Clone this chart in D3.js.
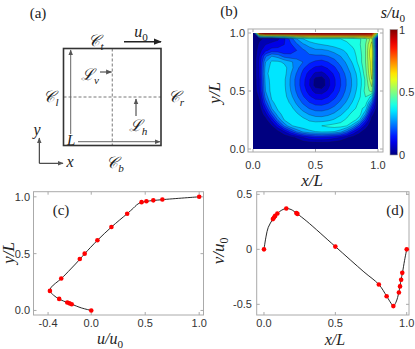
<!DOCTYPE html>
<html>
<head>
<meta charset="utf-8">
<script src="https://cdn.jsdelivr.net/npm/d3@7"></script>
<style>
  body { margin: 0; background: #fff; }
  svg text { fill: #222; }
  .tick { font-family: "Liberation Sans", Arial, sans-serif; font-size: 11px; fill: #333; }
  .math { font-family: "Liberation Serif", "DejaVu Serif", serif; font-style: italic; }
  .plab { font-family: "Liberation Serif", "DejaVu Serif", serif; font-size: 15px; }
</style>
</head>
<body>
<div id="fig"></div>
<script>
// ---- data ----
// reference points, u along the vertical centre line
var yPts = [0, 0.0547, 0.0625, 0.0703, 0.1016, 0.1719, 0.2813, 0.4531, 0.5, 0.6172, 0.7344, 0.8516, 0.9531, 0.9609, 0.9688, 0.9766, 1.0];
var uPts = [0, -0.181, -0.202, -0.222, -0.297, -0.383, -0.278, -0.106, -0.061, 0.057, 0.187, 0.333, 0.466, 0.511, 0.575, 0.659, 1.0];
// simulated u profile (solid line)
var yLine = [0, 0.022, 0.055, 0.07, 0.10, 0.135, 0.172, 0.205, 0.24, 0.28, 0.365, 0.45, 0.5, 0.617, 0.734, 0.852, 0.9, 0.928, 0.946, 0.96, 0.975, 1.0];
var uLine = [0, -0.09, -0.181, -0.222, -0.297, -0.35, -0.383, -0.37, -0.33, -0.278, -0.19, -0.106, -0.06, 0.057, 0.187, 0.333, 0.39, 0.42, 0.45, 0.511, 0.659, 1.0];
// reference points, v along the horizontal centre line
var xPts = [0, 0.0625, 0.0703, 0.0781, 0.0938, 0.1563, 0.2266, 0.2344, 0.5, 0.8047, 0.8594, 0.9063, 0.9453, 0.9531, 0.9609, 0.9688, 1.0];
var vPts = [0, 0.275, 0.29, 0.304, 0.326, 0.371, 0.331, 0.322, 0.025, -0.32, -0.427, -0.516, -0.392, -0.337, -0.277, -0.214, 0];
// simulated v profile (solid line)
var xLine = [0, 0.015, 0.03, 0.0625, 0.094, 0.125, 0.156, 0.19, 0.234, 0.3, 0.5, 0.7, 0.805, 0.86, 0.89, 0.906, 0.925, 0.945, 0.96, 0.97, 0.985, 1.0];
var vLine = [0, 0.12, 0.2, 0.275, 0.326, 0.357, 0.371, 0.362, 0.322, 0.255, 0.025, -0.205, -0.32, -0.427, -0.49, -0.515, -0.48, -0.39, -0.277, -0.214, -0.1, 0];

// speed field s/u0 on a 21x21 grid, rows from y=1 (top) down to y=0, x from 0 to 1
var speedGrid = [
  [0, 0.9, 1, 1, 1, 1, 1, 1, 1, 1, 1, 1, 1, 1, 1, 1, 1, 1, 1, 0.95, 0.5],
  [0, 0.04, 0.06, 0.07, 0.09, 0.14, 0.22, 0.3, 0.35, 0.38, 0.39, 0.4, 0.4, 0.4, 0.4, 0.41, 0.42, 0.44, 0.48, 0.58, 0],
  [0, 0.06, 0.1, 0.12, 0.13, 0.15, 0.19, 0.24, 0.29, 0.32, 0.34, 0.35, 0.36, 0.37, 0.38, 0.39, 0.41, 0.44, 0.5, 0.62, 0],
  [0, 0.08, 0.14, 0.17, 0.17, 0.16, 0.17, 0.2, 0.24, 0.27, 0.29, 0.29, 0.3, 0.32, 0.34, 0.36, 0.39, 0.43, 0.5, 0.65, 0],
  [0, 0.1, 0.24, 0.3, 0.28, 0.23, 0.22, 0.22, 0.24, 0.24, 0.24, 0.24, 0.25, 0.27, 0.3, 0.34, 0.38, 0.42, 0.5, 0.65, 0],
  [0, 0.11, 0.3, 0.36, 0.36, 0.34, 0.31, 0.28, 0.25, 0.21, 0.19, 0.18, 0.2, 0.23, 0.27, 0.31, 0.36, 0.42, 0.5, 0.63, 0],
  [0, 0.11, 0.32, 0.37, 0.38, 0.37, 0.32, 0.27, 0.21, 0.17, 0.14, 0.135, 0.156, 0.19, 0.24, 0.29, 0.34, 0.4, 0.49, 0.63, 0],
  [0, 0.11, 0.33, 0.38, 0.38, 0.37, 0.305, 0.245, 0.185, 0.13, 0.09, 0.085, 0.115, 0.16, 0.21, 0.27, 0.32, 0.38, 0.48, 0.62, 0],
  [0, 0.1, 0.32, 0.37, 0.38, 0.36, 0.295, 0.23, 0.17, 0.107, 0.035, 0.02, 0.087, 0.142, 0.2, 0.256, 0.314, 0.37, 0.46, 0.6, 0],
  [0, 0.1, 0.31, 0.37, 0.38, 0.36, 0.294, 0.231, 0.167, 0.104, 0.03, 0.015, 0.084, 0.141, 0.198, 0.255, 0.313, 0.37, 0.46, 0.56, 0],
  [0, 0.09, 0.3, 0.37, 0.38, 0.364, 0.302, 0.241, 0.181, 0.125, 0.081, 0.076, 0.108, 0.157, 0.209, 0.265, 0.32, 0.38, 0.47, 0.52, 0],
  [0, 0.06, 0.27, 0.36, 0.38, 0.37, 0.318, 0.261, 0.207, 0.16, 0.129, 0.125, 0.148, 0.186, 0.232, 0.283, 0.336, 0.39, 0.45, 0.38, 0],
  [0, 0.04, 0.22, 0.34, 0.37, 0.38, 0.342, 0.289, 0.241, 0.202, 0.179, 0.176, 0.193, 0.223, 0.263, 0.309, 0.358, 0.41, 0.43, 0.26, 0],
  [0, 0.02, 0.15, 0.3, 0.36, 0.38, 0.37, 0.322, 0.28, 0.248, 0.229, 0.227, 0.24, 0.265, 0.3, 0.34, 0.385, 0.42, 0.38, 0.16, 0],
  [0, 0.01, 0.08, 0.22, 0.33, 0.37, 0.38, 0.36, 0.323, 0.296, 0.28, 0.278, 0.289, 0.31, 0.34, 0.38, 0.42, 0.43, 0.3, 0.07, 0],
  [0, 0, 0.03, 0.12, 0.26, 0.35, 0.38, 0.38, 0.368, 0.344, 0.331, 0.33, 0.339, 0.357, 0.383, 0.41, 0.43, 0.36, 0.18, 0.03, 0],
  [0, 0, 0.01, 0.05, 0.14, 0.26, 0.34, 0.37, 0.38, 0.38, 0.39, 0.4, 0.41, 0.42, 0.42, 0.4, 0.32, 0.2, 0.08, 0.01, 0],
  [0, 0, 0, 0.01, 0.04, 0.1, 0.18, 0.26, 0.31, 0.34, 0.35, 0.36, 0.36, 0.35, 0.32, 0.25, 0.15, 0.07, 0.02, 0, 0],
  [0, 0, 0, 0, 0, 0.01, 0.03, 0.06, 0.1, 0.13, 0.15, 0.15, 0.14, 0.12, 0.1, 0.06, 0.03, 0.01, 0, 0, 0],
  [0, 0, 0, 0, 0, 0, 0, 0.01, 0.02, 0.03, 0.03, 0.03, 0.03, 0.02, 0.01, 0, 0, 0, 0, 0, 0],
  [0, 0, 0, 0, 0, 0, 0, 0, 0, 0, 0, 0, 0, 0, 0, 0, 0, 0, 0, 0, 0]
];
var levels = d3.range(0.05, 1.0, 0.05);

var bTicks = [0, 0.5, 1], bTickLabels = ["0.0", "0.5", "1.0"];
var cbarTicks = [0, 0.5, 1], cbarTickLabels = ["0", "0.5", "1"];
var cTicksX = [-0.4, 0, 0.5, 1], cTickLabelsX = ["-0.4", "0.0", "0.5", "1.0"];
var cTicksY = [0, 0.5, 1], cTickLabelsY = ["0.0", "0.5", "1.0"];
var dTicksX = [0, 0.5, 1], dTickLabelsX = ["0.0", "0.5", "1.0"];
var dTicksY = [-0.5, 0, 0.5], dTickLabelsY = ["-0.5", "0", "0.5"];

// jet colour map
function jet(t) {
    var r = Math.max(0, Math.min(1, 1.5 - Math.abs(4 * t - 3)));
    var g = Math.max(0, Math.min(1, 1.5 - Math.abs(4 * t - 2)));
    var b = Math.max(0, Math.min(1, 1.5 - Math.abs(4 * t - 1)));
    return d3.rgb(r * 255, g * 255, b * 255).toString();
}

var width = 415, height = 349;
var svg = d3.select("#fig").append("svg")
    .attr("width", width)
    .attr("height", height);

var defs = svg.append("defs");
function marker(id, size, color) {
    defs.append("marker")
        .attr("id", id)
        .attr("viewBox", "0 0 10 10")
        .attr("refX", 9).attr("refY", 5)
        .attr("markerWidth", size).attr("markerHeight", size)
        .attr("markerUnits", "userSpaceOnUse")
        .attr("orient", "auto")
        .append("path")
        .attr("d", "M0,1 L10,5 L0,9 Z")
        .attr("fill", color);
}
marker("arrGray", 6, "#555");
marker("arrDark", 8, "#222");

// math label helper: base text + optional subscript (digits upright, letters italic)
function mathText(g, x, y, parts, size, anchor, rotate) {
    var t = g.append("text")
        .attr("class", "math")
        .attr("font-size", size)
        .attr("text-anchor", anchor || "middle");
    if (rotate) t.attr("transform", "translate(" + x + "," + y + ") rotate(" + rotate + ")");
    else t.attr("x", x).attr("y", y);
    parts.forEach(function (p) {
        var s = t.append("tspan").text(p[0]);
        if (p[1] == "sub") {
            s.attr("font-size", size * 0.7).attr("dy", size * 0.22);
            if (/^[0-9]+$/.test(p[0])) s.attr("font-style", "normal");
        }
    });
    return t;
}

// ---------------- panel (a) ----------------
var a = svg.append("g");
a.append("text").attr("class", "plab").attr("x", 38).attr("y", 18).attr("text-anchor", "middle").text("(a)");
var box = {x0: 63.5, x1: 161, y0: 48.5, y1: 145.5};
a.append("line").attr("x1", (box.x0 + box.x1) / 2).attr("x2", (box.x0 + box.x1) / 2)
    .attr("y1", box.y0).attr("y2", box.y1)
    .attr("stroke", "#555").attr("stroke-width", 0.8).attr("stroke-dasharray", "3,2");
a.append("line").attr("x1", box.x0).attr("x2", box.x1)
    .attr("y1", (box.y0 + box.y1) / 2).attr("y2", (box.y0 + box.y1) / 2)
    .attr("stroke", "#555").attr("stroke-width", 0.8).attr("stroke-dasharray", "3,2");
a.append("rect").attr("x", box.x0).attr("y", box.y0)
    .attr("width", box.x1 - box.x0).attr("height", box.y1 - box.y0)
    .attr("fill", "none").attr("stroke", "#333").attr("stroke-width", 1.6);
// L arrows inside the box
a.append("line").attr("x1", 70.7).attr("y1", 134).attr("x2", 70.7).attr("y2", 50)
    .attr("stroke", "#666").attr("stroke-width", 1).attr("marker-end", "url(#arrGray)");
a.append("line").attr("x1", 78).attr("y1", 141.7).attr("x2", 160).attr("y2", 141.7)
    .attr("stroke", "#666").attr("stroke-width", 1).attr("marker-end", "url(#arrGray)");
a.append("text").attr("class", "math").attr("font-size", 15).attr("x", 67).attr("y", 145).text("L");
// lid velocity
a.append("line").attr("x1", 124).attr("y1", 41.7).attr("x2", 161).attr("y2", 41.7)
    .attr("stroke", "#222").attr("stroke-width", 1.6).attr("marker-end", "url(#arrDark)");
mathText(a, 141, 37, [["u"], ["0", "sub"]], 16, "middle");
// boundary names
mathText(a, 96, 46, [["\uD835\uDC9E"], ["t", "sub"]], 16, "middle");
mathText(a, 51, 102, [["\uD835\uDC9E"], ["l", "sub"]], 16, "middle");
mathText(a, 176, 102, [["\uD835\uDC9E"], ["r", "sub"]], 16, "middle");
mathText(a, 115, 168, [["\uD835\uDC9E"], ["b", "sub"]], 16, "middle");
// centre lines
mathText(a, 90, 80, [["\u2112"], ["v", "sub"]], 16, "middle");
a.append("line").attr("x1", 100).attr("y1", 72).attr("x2", 111.5).attr("y2", 72)
    .attr("stroke", "#333").attr("stroke-width", 1).attr("marker-end", "url(#arrGray)");
mathText(a, 138, 131, [["\u2112"], ["h", "sub"]], 16, "middle");
a.append("line").attr("x1", 136).attr("y1", 116).attr("x2", 136).attr("y2", 99)
    .attr("stroke", "#333").attr("stroke-width", 1).attr("marker-end", "url(#arrGray)");
// coordinate axes
a.append("line").attr("x1", 39.3).attr("y1", 163.3).attr("x2", 39.3).attr("y2", 138)
    .attr("stroke", "#222").attr("stroke-width", 1).attr("marker-end", "url(#arrGray)");
a.append("line").attr("x1", 39.3).attr("y1", 163.3).attr("x2", 63).attr("y2", 163.3)
    .attr("stroke", "#222").attr("stroke-width", 1).attr("marker-end", "url(#arrGray)");
a.append("text").attr("class", "math").attr("font-size", 16).attr("x", 37).attr("y", 135).attr("text-anchor", "middle").text("y");
a.append("text").attr("class", "math").attr("font-size", 16).attr("x", 70).attr("y", 167).attr("text-anchor", "middle").text("x");

// frame with inward ticks on all sides
function frame(g, x, y, xt, yt) {
    var x0 = x.range()[0], x1 = x.range()[1], y0 = y.range()[0], y1 = y.range()[1];
    g.append("rect").attr("x", x0).attr("y", y1).attr("width", x1 - x0).attr("height", y0 - y1)
        .attr("fill", "none").attr("stroke", "#aaa").attr("stroke-width", 1);
    xt.forEach(function (t) {
        g.append("line").attr("x1", x(t)).attr("x2", x(t)).attr("y1", y0).attr("y2", y0 - 3).attr("stroke", "#aaa");
        g.append("line").attr("x1", x(t)).attr("x2", x(t)).attr("y1", y1).attr("y2", y1 + 3).attr("stroke", "#aaa");
    });
    yt.forEach(function (t) {
        g.append("line").attr("y1", y(t)).attr("y2", y(t)).attr("x1", x0).attr("x2", x0 + 3).attr("stroke", "#aaa");
        g.append("line").attr("y1", y(t)).attr("y2", y(t)).attr("x1", x1).attr("x2", x1 - 3).attr("stroke", "#aaa");
    });
}
function tickLabels(g, x, y, xt, xl, yt, yl, xBase, yEnd) {
    g.selectAll(null).data(xt).enter().append("text").attr("class", "tick")
        .attr("x", function (d) { return x(d); }).attr("y", xBase)
        .attr("text-anchor", "middle").text(function (d, i) { return xl[i]; });
    g.selectAll(null).data(yt).enter().append("text").attr("class", "tick")
        .attr("x", yEnd).attr("y", function (d) { return y(d) + 4; })
        .attr("text-anchor", "end").text(function (d, i) { return yl[i]; });
}

// ---------------- panel (b) ----------------
var b = svg.append("g");
var bx = d3.scaleLinear().domain([0, 1]).range([253, 378]);
var by = d3.scaleLinear().domain([0, 1]).range([149, 33]);
var bFrameX = d3.scaleLinear().domain([-0.04, 1.04]).range([248, 383]);
var bFrameY = d3.scaleLinear().domain([-0.026, 1.034]).range([152, 29]);
b.append("text").attr("class", "plab").attr("x", 229).attr("y", 16).attr("text-anchor", "middle").text("(b)");

defs.append("clipPath").attr("id", "bclip").append("rect")
    .attr("x", bx(0)).attr("y", by(1)).attr("width", bx(1) - bx(0)).attr("height", by(0) - by(1));

var n = speedGrid[0].length, m = speedGrid.length;
var flat = [].concat.apply([], speedGrid);
var contours = d3.contours().size([n, m]).thresholds(levels)(flat);
var sx = (bx(1) - bx(0)) / (n - 1), sy = (by(0) - by(1)) / (m - 1);
var gridPath = d3.geoPath(d3.geoTransform({
    point: function (px, py) {
        this.stream.point(bx(0) + (px - 0.5) * sx, by(1) + (py - 0.5) * sy);
    }
}));
var field = b.append("g").attr("clip-path", "url(#bclip)");
field.append("rect").attr("x", bx(0)).attr("y", by(1))
    .attr("width", bx(1) - bx(0)).attr("height", by(0) - by(1)).attr("fill", jet(0));
field.selectAll("path.band").data(contours).enter().append("path")
    .attr("class", "band")
    .attr("d", gridPath)
    .attr("fill", function (d) { return jet(d.value); })
    .attr("stroke", "#1a1a1a").attr("stroke-width", 0.45).attr("stroke-opacity", 0.65);

frame(b, bFrameX, bFrameY, [], []);
bTicks.forEach(function (t) {
    b.append("line").attr("x1", bx(t)).attr("x2", bx(t)).attr("y1", 152).attr("y2", 149).attr("stroke", "#aaa");
    b.append("line").attr("x1", bx(t)).attr("x2", bx(t)).attr("y1", 29).attr("y2", 32).attr("stroke", "#aaa");
    b.append("line").attr("y1", by(t)).attr("y2", by(t)).attr("x1", 248).attr("x2", 251).attr("stroke", "#aaa");
    b.append("line").attr("y1", by(t)).attr("y2", by(t)).attr("x1", 383).attr("x2", 380).attr("stroke", "#aaa");
});
tickLabels(b, bx, by, bTicks, bTickLabels, bTicks, bTickLabels, 169, 245);
mathText(b, 312, 186, [["x/L"]], 17, "middle");
mathText(b, 220, 93, [["y/L"]], 17, "middle", -90);

// colour bar
var cb = {x: 390, y: 29.5, w: 7.5, h: 125.5};
var grad = defs.append("linearGradient").attr("id", "jetGrad")
    .attr("x1", 0).attr("y1", 1).attr("x2", 0).attr("y2", 0);
d3.range(0, 1.0001, 0.05).forEach(function (t) {
    grad.append("stop").attr("offset", t).attr("stop-color", jet(t));
});
b.append("rect").attr("x", cb.x).attr("y", cb.y).attr("width", cb.w).attr("height", cb.h)
    .attr("fill", "url(#jetGrad)").attr("stroke", "#999").attr("stroke-width", 0.6);
var cby = d3.scaleLinear().domain([0, 1]).range([cb.y + cb.h, cb.y]);
b.selectAll(null).data(cbarTicks).enter().append("text").attr("class", "tick")
    .attr("x", 399).attr("y", function (d) { return cby(d) + 4; })
    .text(function (d, i) { return cbarTickLabels[i]; });
mathText(b, 393, 18, [["s/u"], ["0", "sub"]], 16, "middle");

// ---------------- panel (c) ----------------
var c = svg.append("g");
var cx = d3.scaleLinear().domain([-0.535, 1.04]).range([33.5, 203.5]);
var cy = d3.scaleLinear().domain([-0.04, 1.045]).range([315, 191.7]);
frame(c, cx, cy, cTicksX, cTicksY);
tickLabels(c, cx, cy, cTicksX, cTickLabelsX, cTicksY, cTickLabelsY, 327, 30);
c.append("path")
    .attr("d", d3.line().curve(d3.curveCatmullRom)
        .x(function (d, i) { return cx(uLine[i]); })
        .y(function (d, i) { return cy(yLine[i]); })(yLine))
    .attr("fill", "none").attr("stroke", "#111").attr("stroke-width", 0.9);
c.selectAll("circle").data(yPts).enter().append("circle")
    .attr("cx", function (d, i) { return cx(uPts[i]); })
    .attr("cy", function (d) { return cy(d); })
    .attr("r", 2.3).attr("fill", "#f00");
c.append("text").attr("class", "plab").attr("x", 61).attr("y", 215).attr("text-anchor", "middle").text("(c)");
mathText(c, 110, 344, [["u/u"], ["0", "sub"]], 16, "middle");
mathText(c, 14, 253, [["y/L"]], 17, "middle", -90);

// ---------------- panel (d) ----------------
var d = svg.append("g");
var dx = d3.scaleLinear().domain([-0.051, 1.016]).range([256.7, 409]);
var dy = d3.scaleLinear().domain([-0.597, 0.524]).range([315, 191.7]);
frame(d, dx, dy, dTicksX, dTicksY);
tickLabels(d, dx, dy, dTicksX, dTickLabelsX, dTicksY, dTickLabelsY, 327, 252);
d.append("path")
    .attr("d", d3.line().curve(d3.curveCatmullRom)
        .x(function (p, i) { return dx(xLine[i]); })
        .y(function (p, i) { return dy(vLine[i]); })(xLine))
    .attr("fill", "none").attr("stroke", "#111").attr("stroke-width", 0.9);
d.selectAll("circle").data(xPts).enter().append("circle")
    .attr("cx", function (p) { return dx(p); })
    .attr("cy", function (p, i) { return dy(vPts[i]); })
    .attr("r", 2.3).attr("fill", "#f00");
d.append("text").attr("class", "plab").attr("x", 395).attr("y", 215).attr("text-anchor", "middle").text("(d)");
mathText(d, 335, 345, [["x/L"]], 16, "middle");
mathText(d, 224, 251, [["v/u"], ["0", "sub"]], 17, "middle", -90);
</script>
</body>
</html>
